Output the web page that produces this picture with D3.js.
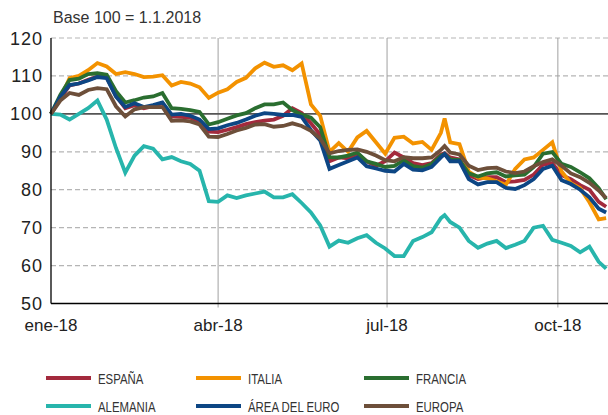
<!DOCTYPE html>
<html>
<head>
<meta charset="utf-8">
<style>
  html, body { margin: 0; padding: 0; background: #fff; }
  text { font-family: "Liberation Sans", Arial, sans-serif; fill: #222; }
  .legend text { font-size: 15px; fill: #333; }
</style>
</head>
<body>
<svg id="chart" width="608" height="415"></svg>
<script src="https://cdn.jsdelivr.net/npm/d3@7"></script>
<script>
// days after 1 Jan 2018
var days = [0,5,10,15,20,25,30,35,40,45,50,55,60,65,70,75,80,85,90,95,100,105,110,115,120,125,130,135,140,145,
            150,155,160,165,170,175,180,185,190,195,200,205,210,212,215,220,225,230,235,240,245,250,255,260,265,270,275,280,285,290,295,299];

var espana = [100,104,107.5,108,109,109.8,109.6,104.8,101.5,102.3,101.5,102,102.8,99.3,99.2,99,97.8,95.3,95.2,95.8,
              96.5,97.3,97.8,98.2,98.5,99.5,101.5,100.2,97.5,94.5,87.5,88.5,88.3,89.5,87.5,86.3,87.5,89.8,88.5,87,
              86.5,87,89.3,89.6,88.5,88,83.8,82.8,83.3,83.3,82,82.2,82.6,84,86.6,87,83.8,82.8,81.2,80,76.8,75.5];
var italia = [100,104,109.4,110,111.5,113.4,112.5,110.5,111,110.5,109.7,109.8,110.2,107.5,108.4,108,107,104.2,105.6,106.5,
              108.4,109.5,112,113.5,112.4,112.8,111.5,113.3,102.5,99.5,90,92.3,90,93.8,95.5,92.5,89.5,93.7,94,92.2,
              92.6,90.5,95,98.8,92.5,92,84.8,83.2,83,82.2,81.3,85.5,88,88.5,90.5,92.5,84.8,81.7,80.4,76.7,72.2,72.5];
var francia = [100,105,108.9,109.3,110.5,110.7,110.3,106,103,103.6,104.3,104.6,105.5,101.5,101.3,101,100.5,97.2,97.8,98.7,
               99.6,100.2,101.5,102.5,102.5,103,101,99.8,99,96.5,88.6,88.5,89,89.8,87.5,86.8,86,86.3,87.8,86.2,
               85.8,86.8,89,89.4,88,87.8,84.3,83.5,84.3,84.6,83.5,83.8,84,86,89.5,89.9,86.8,86,84.6,83,80.4,77.5];
var alemania = [100,99.8,98.5,100,101.5,103.5,98.5,91,84.5,89,91.5,90.8,88,88.6,87.5,86.8,85,77,76.8,78.5,
                77.8,78.5,79,79.5,78,78,78.8,76.5,74,70.6,65,66.6,66,67.2,68,66,64.5,62.5,62.5,66.5,
                67.5,68.8,72.5,73.3,71.5,70,66.5,64.7,65.8,66.5,64.6,65.5,66.5,70,70.5,66.8,66,65.2,63.5,65,61,59.2];
var areaEuro = [100,104.5,107.6,108,108.8,109.7,109.4,104.5,101.8,102.8,101.8,102.3,103,99.8,100,99.5,98.5,96,96.2,97,
                97.6,98.5,99.5,100.2,100,99.7,99.7,99.2,95.7,93,85.5,86.5,87.5,88.5,86.2,85.6,85,84.8,86.8,85.3,
                85.1,86,88.5,89.4,87.5,87.5,82.8,81.4,82,82,80.5,80.2,81.2,82.8,85.5,86.3,82.5,81.5,80,78,75,74];
var europa = [100,103.5,105.5,105,106.3,106.8,106.5,102,99.3,101.2,101.8,101.8,101.8,98.2,98.3,98,97.2,94,93.9,94.7,
              95.6,96.3,97.2,97.3,96.6,96.8,97.5,96.8,95.5,93.5,89.6,90.2,90.5,90.6,90,89,87.8,87.5,88.6,88.3,
              88.3,88.5,90.5,91.5,89.8,89.3,86.3,85.2,85.7,85.8,84.8,84.4,84.8,86.2,87.3,88,86.3,84.3,83.3,81.8,79.8,77.8];

var seriesNames = ["ESPAÑA","ITALIA","FRANCIA","ALEMANIA","ÁREA DEL EURO","EUROPA"];
var seriesValues = [espana, italia, francia, alemania, areaEuro, europa];
var seriesColors = ["#a32a3d","#f39200","#2a6e30","#27b5ac","#0d4684","#6d4f3a"];

var yTicks = [50,60,70,80,90,100,110,120];
var xTickDates = [new Date(2018,0,1), new Date(2018,3,1), new Date(2018,6,1), new Date(2018,9,1)];
var xTickLabels = ["ene-18","abr-18","jul-18","oct-18"];

var start = new Date(2018,0,1);
var plotLeft = 51, plotRight = 608, plotTop = 38, plotBottom = 303.5;

var x = d3.scaleTime().domain([start, d3.timeDay.offset(start, 300)]).range([plotLeft, plotRight]);
var y = d3.scaleLinear().domain([50,120]).range([plotBottom, plotTop]);

var svg = d3.select("#chart");

svg.append("text").attr("x", 53).attr("y", 23).style("font-size", "16px").style("fill", "#333")
  .text("Base 100 = 1.1.2018");

// horizontal grid
svg.append("g").selectAll("line").data(yTicks.filter(function(d){ return d != 50 && d != 100; }))
  .enter().append("line")
  .attr("x1", plotLeft).attr("x2", plotRight)
  .attr("y1", function(d){ return y(d); }).attr("y2", function(d){ return y(d); })
  .attr("stroke", "#b5b5b5").attr("stroke-width", 1.2).attr("stroke-dasharray", "5,3");

// vertical grid
svg.append("g").selectAll("line").data(xTickDates.slice(1))
  .enter().append("line")
  .attr("x1", function(d){ return x(d); }).attr("x2", function(d){ return x(d); })
  .attr("y1", plotTop).attr("y2", plotBottom + 4)
  .attr("stroke", "#a0a0a0").attr("stroke-width", 1);

// base 100 line
svg.append("line").attr("x1", plotLeft).attr("x2", plotRight).attr("y1", y(100)).attr("y2", y(100))
  .attr("stroke", "#555").attr("stroke-width", 1.6);

// y labels
svg.append("g").selectAll("text").data(yTicks).enter().append("text")
  .attr("x", 43).attr("y", function(d){ return y(d) + 6.5; })
  .attr("text-anchor", "end").style("font-size", "18px").style("letter-spacing", "1px")
  .text(function(d){ return d; });

// x labels
svg.append("g").selectAll("text").data(xTickDates).enter().append("text")
  .attr("x", function(d){ return x(d); }).attr("y", 331)
  .attr("text-anchor", "middle").style("font-size", "17px")
  .text(function(d, i){ return xTickLabels[i]; });

var line = d3.line()
  .x(function(d, i){ return x(d3.timeDay.offset(start, days[i])); })
  .y(function(d){ return y(d); });

svg.append("g").selectAll("path").data(seriesValues).enter().append("path")
  .attr("d", line)
  .attr("fill", "none")
  .attr("stroke", function(d, i){ return seriesColors[i]; })
  .attr("stroke-width", 3.8)
  .attr("stroke-linejoin", "miter");

// axes
svg.append("line").attr("x1", plotLeft).attr("x2", plotLeft).attr("y1", plotTop).attr("y2", plotBottom)
  .attr("stroke", "#000").attr("stroke-width", 1.3);
svg.append("line").attr("x1", plotLeft).attr("x2", plotRight).attr("y1", plotBottom).attr("y2", plotBottom)
  .attr("stroke", "#000").attr("stroke-width", 1.3);

// legend
var legCols = [46, 196, 364];
var legRows = [378, 406];
var leg = svg.append("g").attr("class", "legend").selectAll("g").data(seriesNames).enter().append("g")
  .attr("transform", function(d, i){ return "translate(" + legCols[i % 3] + "," + legRows[Math.floor(i / 3)] + ")"; });
leg.append("rect").attr("x", 0).attr("y", -2).attr("width", 45).attr("height", 4)
  .attr("fill", function(d, i){ return seriesColors[i]; });
leg.append("text").attr("transform", "translate(52,5.5) scale(0.76,1)").text(function(d){ return d; });
</script>
</body>
</html>
